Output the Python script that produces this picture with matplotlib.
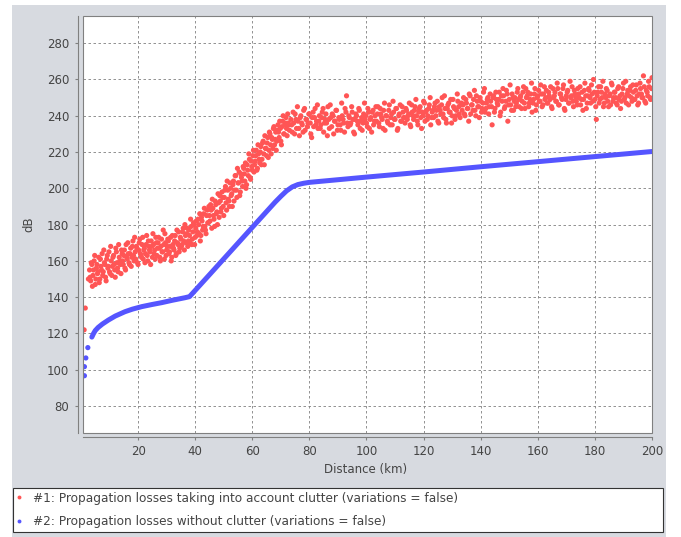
import matplotlib.pyplot as plt
from matplotlib.lines import Line2D
from matplotlib.patches import Rectangle

# Serie 1: pérdidas con clutter (nube de puntos rojos), primera tanda
red_km = [1.1, 1.5, 2.6,
          3.0, 3.4, 3.8, 4.2, 4.6, 5.0, 5.4, 5.8, 6.2, 6.6, 7.0, 7.4, 7.8, 8.2, 8.6, 9.0, 9.4, 9.8,
          10.2, 10.6, 11.0, 11.4, 11.8, 12.2, 12.6, 13.0, 13.4, 13.8, 14.2, 14.6, 15.0, 15.4, 15.8,
          16.2, 16.6, 17.0, 17.4, 17.8, 18.2, 18.6, 19.0, 19.4, 19.8, 20.2, 20.6, 21.0, 21.4, 21.8,
          22.2, 22.6, 23.0, 23.4, 23.8, 24.2, 24.6, 25.0, 25.4, 25.8, 26.2, 26.6, 27.0, 27.4, 27.8,
          28.2, 28.6, 29.0, 29.4, 29.8, 30.2, 30.6, 31.0, 31.4, 31.8, 32.2, 32.6, 33.0, 33.4, 33.8,
          34.2, 34.6, 35.0, 35.4, 35.8, 36.2, 36.6,
          37.0, 37.4, 37.8, 38.2, 38.6, 39.0, 39.4, 39.8, 40.2, 40.6,
          41.0, 41.4, 41.8, 42.2, 42.6, 43.0, 43.4, 43.8, 44.2, 44.6,
          45.0, 45.4, 45.8, 46.2, 46.6, 47.0, 47.4, 47.8, 48.2, 48.6,
          49.0, 49.4, 49.8, 50.2, 50.6, 51.0, 51.4, 51.8, 52.2, 52.6,
          53.0, 53.4, 53.8, 54.2, 54.6, 55.0, 55.4, 55.8, 56.2, 56.6,
          57.0, 57.4, 57.8, 58.2, 58.6, 59.0, 59.4, 59.8, 60.2, 60.6,
          61.0, 61.4, 61.8, 62.2, 62.6, 63.0, 63.4, 63.8, 64.2, 64.6,
          65.0, 65.4, 65.8, 66.2, 66.6, 67.0, 67.4, 67.8, 68.2, 68.6,
          69.0, 69.4, 69.8, 70.2, 70.6, 71.0, 71.4, 71.8, 72.2, 72.6, 73.0,
          73.5, 74.0, 74.5, 75.0, 75.5, 76.0, 76.5, 77.0, 77.5, 78.0,
          78.5, 79.0, 79.5, 80.0, 80.5, 81.0, 81.5, 82.0, 82.5, 83.0,
          83.5, 84.0, 84.5, 85.0, 85.5, 86.0, 86.5, 87.0, 87.5, 88.0,
          88.5, 89.0, 89.5, 90.0, 90.5, 91.0, 91.5, 92.0, 92.5, 93.0,
          93.5, 94.0, 94.5, 95.0, 95.5, 96.0, 96.5, 97.0, 97.5, 98.0,
          98.5, 99.0, 99.5, 100.0, 100.5, 101.0, 101.5, 102.0, 102.5, 103.0,
          103.5, 104.0, 104.5, 105.0, 105.5, 106.0, 106.5, 107.0, 107.5, 108.0,
          108.5, 109.0, 109.5, 110.0, 110.5, 111.0, 111.5, 112.0, 112.5, 113.0,
          113.5, 114.0, 114.5, 115.0, 115.5, 116.0, 116.5, 117.0, 117.5, 118.0,
          118.5, 119.0, 119.5, 120.0, 120.5, 121.0, 121.5, 122.0, 122.5, 123.0,
          123.5, 124.0, 124.5, 125.0, 125.5, 126.0, 126.5, 127.0, 127.5, 128.0,
          128.5, 129.0, 129.5, 130.0, 130.5, 131.0, 131.5, 132.0, 132.5, 133.0,
          133.5, 134.0, 134.5, 135.0, 135.5, 136.0, 136.5, 137.0, 137.5, 138.0,
          138.5, 139.0, 139.5, 140.0, 140.5, 141.0, 141.5, 142.0, 142.5, 143.0,
          143.5, 144.0, 144.5, 145.0, 145.5, 146.0, 146.5, 147.0, 147.5, 148.0,
          148.5, 149.0, 149.5, 150.0, 150.5, 151.0, 151.5, 152.0, 152.5, 153.0,
          153.5, 154.0, 154.5, 155.0, 155.5, 156.0, 156.5, 157.0, 157.5, 158.0,
          158.5, 159.0, 159.5, 160.0, 160.5, 161.0, 161.5, 162.0, 162.5, 163.0,
          163.5, 164.0, 164.5, 165.0, 165.5, 166.0, 166.5, 167.0, 167.5, 168.0,
          168.5, 169.0, 169.5, 170.0, 170.5, 171.0, 171.5, 172.0, 172.5, 173.0,
          173.5, 174.0, 174.5, 175.0, 175.5, 176.0, 176.5, 177.0, 177.5, 178.0,
          178.5, 179.0, 179.5, 180.0, 180.5, 181.0, 181.5, 182.0, 182.5, 183.0,
          183.5, 184.0, 184.5, 185.0, 185.5, 186.0, 186.5, 187.0, 187.5, 188.0,
          188.5, 189.0, 189.5, 190.0, 190.5, 191.0, 191.5, 192.0, 192.5, 193.0,
          193.5, 194.0, 194.5, 195.0, 195.5, 196.0, 196.5, 197.0, 197.5, 198.0,
          198.5, 199.0, 199.5, 200.0]
red_db = [122, 134, 150,
          155, 149, 158, 152, 160, 147, 156, 153, 162, 150, 157, 164, 154, 159, 151, 161, 156, 165,
          153, 160, 157, 163, 155, 167, 159, 154, 162, 158, 166, 160, 163, 156, 169,
          161, 164, 158, 167, 162, 171, 160, 165, 168, 159, 166, 172, 163, 169, 161,
          167, 164, 174, 160, 168, 165, 171, 162, 169, 166, 173, 163, 170, 167, 160,
          172, 165, 169, 175, 163, 168, 171, 165, 173, 162, 169, 166, 174, 164, 170,
          176, 167, 172, 169, 178, 166, 174,
          175, 168, 177, 170, 179, 172, 181, 169, 178, 174,
          183, 175, 171, 184, 177, 186, 179, 175, 188, 181,
          185, 191, 178, 189, 183, 193, 186, 180, 192, 196,
          187, 198, 190, 195, 201, 188, 199, 193, 203, 196,
          190, 204, 199, 207, 195, 203, 209, 198, 206, 201,
          211, 204, 200, 213, 207, 216, 205, 212, 218, 209,
          215, 221, 211, 219, 214, 223, 216, 226, 213, 222,
          218, 228, 221, 230, 219, 227, 233, 224, 231, 226,
          235, 228, 233, 224, 237, 230, 235, 239, 229, 236, 232,
          238, 231, 236, 241, 233, 237, 229, 240, 235, 243,
          232, 238, 236, 241, 230, 239, 234, 244, 237, 233,
          240, 235, 242, 231, 238, 236, 245, 233, 239, 241,
          230, 237, 243, 235, 238, 232, 240, 236, 244, 251,
          234, 239, 236, 242, 231, 238, 240, 235, 243, 237,
          232, 241, 238, 236, 244, 233, 239, 242, 235, 240,
          237, 245, 234, 241, 238, 243, 232, 240, 236, 246,
          239, 235, 242, 238, 244, 233, 241, 237, 245, 239,
          236, 243, 240, 247, 234, 242, 238, 245, 240, 235,
          244, 239, 242, 248, 237, 243, 240, 246, 235, 242,
          239, 247, 243, 237, 245, 241, 250, 239, 244, 236,
          246, 242, 249, 240, 245, 238, 243, 248, 241, 246,
          243, 250, 240, 247, 244, 252, 241, 246, 249, 243,
          251, 245, 239, 248, 244, 253, 242, 247, 250, 245,
          248, 235, 251, 244, 249, 246, 253, 242, 248, 251,
          245, 254, 237, 249, 246, 252, 243, 250, 247, 255,
          245, 251, 248, 256, 244, 250, 253, 247, 252, 242,
          249, 255, 246, 251, 248, 257, 245, 252, 249, 254,
          247, 251, 256, 244, 250, 253, 248, 255, 246, 252,
          249, 257, 243, 251, 254, 247, 250, 256, 245, 252,
          248, 255, 250, 246, 253, 249, 258, 244, 251, 254,
          247, 252, 260, 249, 238, 253, 247, 256, 250, 245,
          252, 255, 248, 251, 246, 257, 250, 253, 247, 255,
          249, 244, 252, 258, 250, 247, 254, 251, 256, 248,
          253, 249, 257, 246, 252, 255, 250, 262, 248, 254,
          251, 256, 249, 261]

# segunda tanda de puntos rojos (entre los de la primera)
red2_km = [3.2, 3.6, 4.0, 4.4, 4.8, 5.2, 5.6, 6.0, 6.4, 6.8,
           7.2, 7.6, 8.0, 8.4, 8.8, 9.2, 9.6, 10.0, 10.4, 10.8,
           11.2, 11.6, 12.0, 12.4, 12.8, 13.2, 13.6, 14.0, 14.4, 14.8,
           15.2, 15.6, 16.0, 16.4, 16.8, 17.2, 17.6, 18.0, 18.4, 18.8,
           19.2, 19.6, 20.0, 20.4, 20.8, 21.2, 21.6, 22.0, 22.4, 22.8,
           23.2, 23.6, 24.0, 24.4, 24.8, 25.2, 25.6, 26.0, 26.4, 26.8,
           27.2, 27.6, 28.0, 28.4, 28.8, 29.2, 29.6, 30.0, 30.4, 30.8,
           31.2, 31.6, 32.0, 32.4, 32.8, 33.2, 33.6, 34.0, 34.4, 34.8,
           35.2, 35.6, 36.0, 36.4, 36.8,
           37.2, 37.6, 38.0, 38.4, 38.8, 39.2, 39.6, 40.0, 40.4, 40.8,
           41.2, 41.6, 42.0, 42.4, 42.8, 43.2, 43.6, 44.0, 44.4, 44.8,
           45.2, 45.6, 46.0, 46.4, 46.8, 47.2, 47.6, 48.0, 48.4, 48.8,
           49.2, 49.6, 50.0, 50.4, 50.8, 51.2, 51.6, 52.0, 52.4, 52.8,
           53.2, 53.6, 54.0, 54.4, 54.8, 55.2, 55.6, 56.0, 56.4, 56.8,
           57.2, 57.6, 58.0, 58.4, 58.8, 59.2, 59.6, 60.0, 60.4, 60.8,
           61.2, 61.6, 62.0, 62.4, 62.8, 63.2, 63.6, 64.0, 64.4, 64.8,
           65.2, 65.6, 66.0, 66.4, 66.8, 67.2, 67.6, 68.0, 68.4, 68.8,
           69.2, 69.6, 70.0, 70.4, 70.8, 71.2, 71.6, 72.0, 72.4, 72.8,
           73.8, 74.3, 74.8, 75.3, 75.8, 76.3, 76.8, 77.3, 77.8, 78.3,
           78.8, 79.3, 79.8, 80.3, 80.8, 81.3, 81.8, 82.3, 82.8, 83.3,
           83.8, 84.3, 84.8, 85.3, 85.8, 86.3, 86.8, 87.3, 87.8, 88.3,
           88.8, 89.3, 89.8, 90.3, 90.8, 91.3, 91.8, 92.3, 92.8, 93.3,
           93.8, 94.3, 94.8, 95.3, 95.8, 96.3, 96.8, 97.3, 97.8, 98.3,
           98.8, 99.3, 99.8, 100.3, 100.8, 101.3, 101.8, 102.3, 102.8, 103.3,
           103.8, 104.3, 104.8, 105.3, 105.8, 106.3, 106.8, 107.3, 107.8, 108.3,
           108.8, 109.3, 109.8, 110.3, 110.8, 111.3, 111.8, 112.3, 112.8, 113.3,
           113.8, 114.3, 114.8, 115.3, 115.8, 116.3, 116.8, 117.3, 117.8, 118.3,
           118.8, 119.3, 119.8, 120.3, 120.8, 121.3, 121.8, 122.3, 122.8, 123.3,
           123.8, 124.3, 124.8, 125.3, 125.8, 126.3, 126.8, 127.3, 127.8, 128.3,
           128.8, 129.3, 129.8, 130.3, 130.8, 131.3, 131.8, 132.3, 132.8, 133.3,
           133.8, 134.3, 134.8, 135.3, 135.8, 136.3, 136.8, 137.3, 137.8, 138.3,
           138.8, 139.3, 139.8, 140.3, 140.8, 141.3, 141.8, 142.3, 142.8, 143.3,
           143.8, 144.3, 144.8, 145.3, 145.8, 146.3, 146.8, 147.3, 147.8, 148.3,
           148.8, 149.3, 149.8, 150.3, 150.8, 151.3, 151.8, 152.3, 152.8, 153.3,
           153.8, 154.3, 154.8, 155.3, 155.8, 156.3, 156.8, 157.3, 157.8, 158.3,
           158.8, 159.3, 159.8, 160.3, 160.8, 161.3, 161.8, 162.3, 162.8, 163.3,
           163.8, 164.3, 164.8, 165.3, 165.8, 166.3, 166.8, 167.3, 167.8, 168.3,
           168.8, 169.3, 169.8, 170.3, 170.8, 171.3, 171.8, 172.3, 172.8, 173.3,
           173.8, 174.3, 174.8, 175.3, 175.8, 176.3, 176.8, 177.3, 177.8, 178.3,
           178.8, 179.3, 179.8, 180.3, 180.8, 181.3, 181.8, 182.3, 182.8, 183.3,
           183.8, 184.3, 184.8, 185.3, 185.8, 186.3, 186.8, 187.3, 187.8, 188.3,
           188.8, 189.3, 189.8, 190.3, 190.8, 191.3, 191.8, 192.3, 192.8, 193.3,
           193.8, 194.3, 194.8, 195.3, 195.8, 196.3, 196.8, 197.3, 197.8, 198.3,
           198.8, 199.3, 199.8]
red2_db = [151, 159, 146, 155, 163, 150, 158, 154, 148, 161,
           155, 152, 166, 158, 149, 163, 157, 154, 168, 152,
           162, 158, 151, 165, 156, 169, 160, 153, 164, 158,
           166, 155, 162, 170, 159, 164, 157, 168, 163, 173,
           161, 167, 158, 170, 164, 162, 173, 166, 159, 169,
           163, 171, 166, 158, 168, 175, 164, 161, 170, 167,
           173, 162, 168, 165, 177, 161, 170, 166, 172, 164,
           168, 160, 174, 167, 171, 163, 177, 169, 165, 173,
           168, 176, 171, 180, 170,
           178, 171, 174, 183, 169, 176, 180, 173, 182, 176,
           180, 186, 174, 182, 179, 189, 177, 185, 181, 190,
           182, 188, 194, 185, 179, 191, 187, 197, 184, 193,
           189, 195, 185, 199, 192, 204, 194, 190, 200, 197,
           202, 193, 207, 199, 211, 203, 196, 208, 204, 212,
           208, 214, 202, 210, 219, 206, 215, 210, 221, 213,
           218, 210, 224, 216, 220, 213, 225, 219, 229, 222,
           225, 217, 231, 224, 228, 222, 234, 227, 221, 232,
           231, 237, 226, 234, 240, 230, 236, 233, 241, 235,
           235, 242, 230, 238, 245, 233, 239, 236, 231, 244,
           238, 234, 241, 236, 228, 242, 239, 235, 246, 237,
           233, 239, 244, 236, 241, 229, 238, 246, 234, 240,
           237, 243, 232, 239, 235, 247, 238, 231, 242, 236,
           240, 235, 245, 238, 230, 241, 237, 244, 233, 239,
           236, 247, 240, 234, 242, 238, 231, 243, 237, 245,
           241, 236, 244, 239, 233, 247, 240, 237, 243, 235,
           241, 248, 238, 244, 232, 240, 246, 237, 242, 239,
           244, 238, 241, 235, 246, 240, 243, 249, 237, 242,
           245, 233, 240, 247, 242, 238, 244, 250, 239, 243,
           245, 240, 248, 236, 243, 246, 241, 251, 238, 244,
           247, 242, 236, 249, 244, 240, 252, 245, 239, 247,
           246, 241, 249, 244, 237, 251, 246, 243, 254, 240,
           248, 245, 250, 242, 247, 255, 244, 249, 241, 252,
           245, 250, 242, 253, 247, 249, 240, 251, 255, 244,
           248, 252, 246, 257, 243, 250, 248, 245, 253, 249,
           250, 244, 253, 247, 255, 251, 245, 249, 258, 247,
           252, 243, 250, 254, 248, 252, 246, 256, 250, 247,
           253, 249, 245, 255, 251, 248, 258, 246, 252, 250,
           255, 244, 249, 253, 247, 259, 251, 248, 254, 250,
           246, 252, 256, 249, 243, 254, 251, 247, 255, 250,
           257, 248, 253, 245, 251, 256, 249, 253, 259, 247,
           250, 254, 245, 252, 258, 248, 253, 250, 246, 256,
           251, 248, 255, 249, 259, 252, 246, 254, 250, 257,
           249, 254, 251, 247, 258, 252, 250, 256, 247, 253,
           259, 250, 255]

# Serie 2: pérdidas sin clutter (curva azul)
blue_km = [1.2, 1.2, 1.7, 2.4, 3.8, 4.4, 5.0, 6.0, 7.5, 9.6, 12.0, 15.4, 18.0, 21.3,
           25.0, 28.3, 32.0, 36.4, 38.0, 39.0, 45.0, 50.0, 55.0, 60.0, 65.0, 68.0,
           70.0, 72.0, 74.0, 76.0, 78.0, 80.0, 100.0, 120.0, 140.0, 160.0, 180.0, 200.0]
blue_db = [96.7, 101.7, 106.5, 112.2, 118.0, 120.0, 121.6, 123.3, 125.2, 127.4, 129.6, 132.0, 133.4, 134.8,
           136.0, 137.0, 138.3, 139.7, 140.3, 142.0, 152.4, 161.1, 169.8, 178.5, 187.2, 192.4,
           195.6, 198.6, 200.8, 202.1, 202.8, 203.3, 206.2, 209.0, 211.9, 214.7, 217.5, 220.3]

x_ticks = [20, 40, 60, 80, 100, 120, 140, 160, 180, 200]
y_ticks = [80, 100, 120, 140, 160, 180, 200, 220, 240, 260, 280]
labels = ['#1: Propagation losses taking into account clutter (variations = false)',
          '#2: Propagation losses without clutter (variations = false)']

assert len(red_km) == len(red_db) and len(red2_km) == len(red2_db)

rojo = '#ff5555'
azul = '#5555ff'
gris = '#808080'
texto = '#444444'

W, H = 681, 537
fig = plt.figure(figsize=(W / 100, H / 100), dpi=100)
fig.patch.set_facecolor('white')
# panel gris de fondo
fig.add_artist(Rectangle((12 / W, 0), 654 / W, 532 / H, transform=fig.transFigure,
                         facecolor='#d7dae0', edgecolor='none', zorder=-5))

ax = fig.add_axes([82.7 / W, 1 - 432.7 / H, (652 - 82.7) / W, (432.7 - 16) / H])
ax.set_facecolor('white')
ax.set_xlim(0.6, 200)
ax.set_ylim(65.3, 295)
ax.set_xticks(x_ticks)
ax.set_yticks(y_ticks)
ax.grid(True, color=gris, lw=0.6, linestyle=(0, (3, 3)))
ax.set_axisbelow(True)

for s in ['top', 'right']:
    ax.spines[s].set_visible(False)
ax.spines['left'].set_position(('outward', 3.6))
ax.spines['bottom'].set_position(('outward', 3.1))
for s in ['left', 'bottom']:
    ax.spines[s].set_color(gris)
    ax.spines[s].set_linewidth(0.8)
ax.add_patch(Rectangle((0, 0), 1, 1, transform=ax.transAxes, fill=False,
                       edgecolor=gris, lw=0.8, clip_on=False, zorder=5))

ax.tick_params(direction='out', length=2, width=0.8, color=gris,
               labelcolor=texto, labelsize=8.5, pad=4)

ax.scatter(red_km + red2_km, red_db + red2_db, s=14, color=rojo, edgecolors='none', zorder=3)
ax.plot(blue_km[4:], blue_db[4:], color=azul, lw=3.6, solid_capstyle='round', zorder=3)
ax.scatter(blue_km[:4], blue_db[:4], s=14, color=azul, edgecolors='none', zorder=3)

ax.set_xlabel('Distance (km)', fontsize=8.5, color=texto)
ax.xaxis.set_label_coords(0.496, -0.073)
ax.set_ylabel('dB', fontsize=8.5, color=texto)
ax.yaxis.set_label_coords(-0.084, 0.5)

handles = [Line2D([], [], ls='none', marker='o', ms=2.8, color=rojo, mec='none'),
           Line2D([], [], ls='none', marker='o', ms=2.8, color=azul, mec='none')]
leg = fig.legend(handles, labels, loc='upper left',
                 bbox_to_anchor=(12.7 / W, 0, 650 / W, 1 - 488 / H), mode='expand',
                 fontsize=8.7, frameon=True, fancybox=False, edgecolor='#333333',
                 framealpha=1, borderaxespad=0, borderpad=0.3, handlelength=0.5,
                 handletextpad=0.9, labelspacing=0.85)
leg.get_frame().set_linewidth(0.8)
for t in leg.get_texts():
    t.set_color(texto)

fig.savefig('out.png', dpi=100)
